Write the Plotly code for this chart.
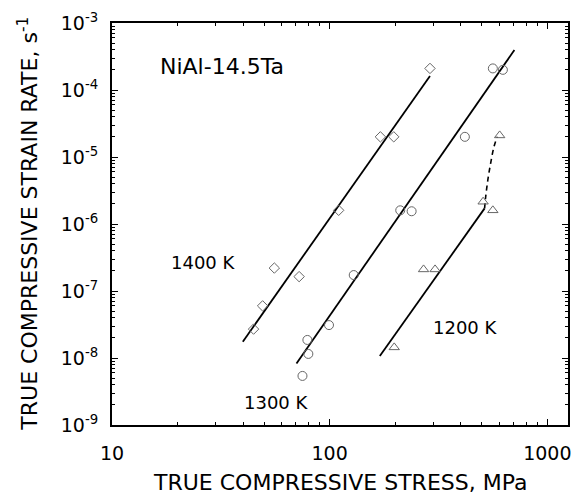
import plotly.graph_objects as go

# ---- data (stress in MPa, strain rate in 1/s) ----
stress_1400 = [289, 171, 197, 110, 55.7, 72.4, 49.2, 44.7]
rate_1400 = [2.1e-4, 2.0e-5, 2.0e-5, 1.6e-6, 2.2e-7, 1.64e-7, 6.0e-8, 2.7e-8]

stress_1300 = [562, 625, 418, 211, 238, 129, 99.3, 79, 79.8, 75]
rate_1300 = [2.1e-4, 2.0e-4, 2.0e-5, 1.6e-6, 1.55e-6, 1.73e-7, 3.1e-8, 1.86e-8, 1.15e-8, 5.4e-9]

stress_1200 = [604, 507, 562, 270, 305, 198]
rate_1200 = [2.1e-5, 2.15e-6, 1.6e-6, 2.1e-7, 2.1e-7, 1.44e-8]

# fitted lines
fit_stress_1400 = [39.9, 289]
fit_rate_1400 = [1.75e-8, 1.62e-4]
fit_stress_1300 = [70.4, 706]
fit_rate_1300 = [8.3e-9, 3.95e-4]
fit_stress_1200 = [170, 515]
fit_rate_1200 = [1.07e-8, 1.71e-6]
dash_stress_1200 = [515, 521, 533, 549, 569, 589]
dash_rate_1200 = [1.71e-6, 2.55e-6, 4.54e-6, 8.05e-6, 1.43e-5, 2.0e-5]

x_tickvals = [10, 100, 1000]
x_ticktext = ["10", "100", "1000"]
y_tickvals = [1e-9, 1e-8, 1e-7, 1e-6, 1e-5, 1e-4, 1e-3]
y_ticktext = ["10<sup>-9</sup>", "10<sup>-8</sup>", "10<sup>-7</sup>", "10<sup>-6</sup>",
              "10<sup>-5</sup>", "10<sup>-4</sup>", "10<sup>-3</sup>"]

FONT = "DejaVu Sans"
mcol = "#666666"

fig = go.Figure()
for xs, ys in [(fit_stress_1400, fit_rate_1400), (fit_stress_1300, fit_rate_1300),
               (fit_stress_1200, fit_rate_1200)]:
    fig.add_trace(go.Scatter(x=xs, y=ys, mode="lines",
                             line=dict(color="black", width=1.8), showlegend=False))
fig.add_trace(go.Scatter(x=dash_stress_1200, y=dash_rate_1200, mode="lines",
                         line=dict(color="black", width=1.6, dash="5px,4px", shape="spline"),
                         showlegend=False))
fig.add_trace(go.Scatter(x=stress_1400, y=rate_1400, mode="markers",
                         marker=dict(symbol="diamond-open", size=8, color=mcol,
                                     line=dict(width=1, color=mcol)), showlegend=False))
fig.add_trace(go.Scatter(x=stress_1300, y=rate_1300, mode="markers",
                         marker=dict(symbol="circle-open", size=9, color=mcol,
                                     line=dict(width=1, color=mcol)), showlegend=False))
fig.add_trace(go.Scatter(x=stress_1200, y=rate_1200, mode="markers",
                         marker=dict(symbol="triangle-up-open", size=9, color=mcol,
                                     line=dict(width=1, color=mcol)), showlegend=False))

minor_x = [v * d for d in [10, 100] for v in range(2, 10)]
minor_y = [v * 10.0 ** e for e in range(-9, -3) for v in range(2, 10)]

fig.update_xaxes(type="log", range=[1, 3.095], showline=True, linecolor="black",
                 linewidth=2, mirror="ticks", ticks="inside", ticklen=6, tickwidth=1,
                 tickcolor="black", tickvals=x_tickvals, ticktext=x_ticktext,
                 showgrid=False, zeroline=False, ticklabelstandoff=10,
                 tickfont=dict(family=FONT, size=19, color="black"),
                 minor=dict(tickvals=minor_x, ticks="inside", ticklen=3,
                            tickcolor="black", showgrid=False))
fig.update_yaxes(type="log", range=[-9, -3], showline=True, linecolor="black",
                 linewidth=2, mirror="ticks", ticks="inside", ticklen=6, tickwidth=1,
                 tickcolor="black", tickvals=y_tickvals, ticktext=y_ticktext,
                 showgrid=False, zeroline=False, ticklabelstandoff=8,
                 tickfont=dict(family=FONT, size=19, color="black"),
                 minor=dict(tickvals=minor_y, ticks="inside", ticklen=3,
                            tickcolor="black", showgrid=False))

ann = [
    dict(text="NiAl-14.5Ta", x=1.504, y=-3.642, size=22),
    dict(text="1400 K", x=1.421, y=-6.582, size=18),
    dict(text="1300 K", x=1.755, y=-8.657, size=18),
    dict(text="1200 K", x=2.622, y=-7.552, size=18),
]
for a in ann:
    fig.add_annotation(text=a["text"], x=a["x"], y=a["y"], xref="x", yref="y",
                       showarrow=False, xanchor="center", yanchor="middle",
                       font=dict(family=FONT, size=a["size"], color="black"))

fig.add_annotation(text="TRUE COMPRESSIVE STRESS, MPa", xref="paper", yref="paper",
                   x=0.5, y=-0.142, xanchor="center", yanchor="middle", showarrow=False,
                   font=dict(family=FONT, size=22, color="black"))
fig.add_annotation(text="TRUE COMPRESSIVE STRAIN RATE, s<sup>-1</sup>", xref="paper",
                   yref="paper", x=-0.185, y=0.5, xanchor="center", yanchor="middle",
                   textangle=-90, showarrow=False,
                   font=dict(family=FONT, size=22, color="black"))

fig.update_layout(width=580, height=503, margin=dict(l=112, r=9, t=23, b=78),
                  plot_bgcolor="white", paper_bgcolor="white")
fig.write_html("out.html", config={"displayModeBar": False},
               post_script="document.body.style.margin='0';document.body.style.overflow='hidden';")
